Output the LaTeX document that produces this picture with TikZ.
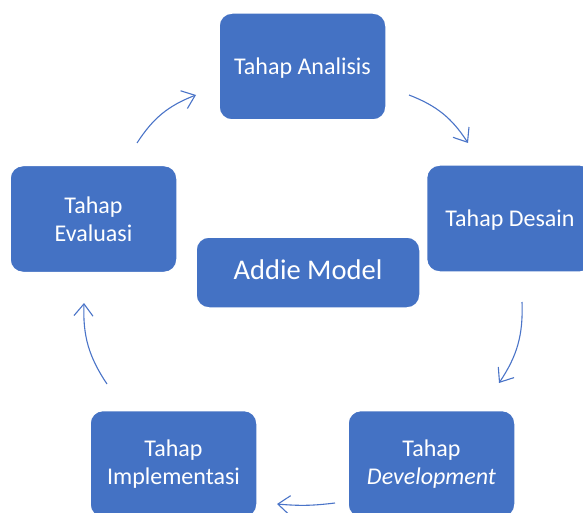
\documentclass[tikz,border=0pt]{standalone}
\usepackage{fontspec}
\setmainfont{Carlito}
\usetikzlibrary{arrows.meta}
\definecolor{boxblue}{HTML}{4472C4}
\definecolor{arrblue}{HTML}{4A74C8}
\tikzset{
  stage/.style={draw=white, line width=1.5pt, fill=boxblue, rounded corners=13pt,
    text=white, align=center, font=\fontsize{24}{28}\selectfont,
    minimum width=167pt, minimum height=107pt, inner sep=0pt},
  centre/.style={stage, minimum width=224pt, minimum height=71pt, font=\fontsize{28.5}{32}\selectfont},
  cyc/.style={draw=arrblue, line width=1.1pt, -{Straight Barb[length=12pt,width=19pt,line width=1.1pt]}}
}
\begin{document}
\begin{tikzpicture}[x=1pt,y=-1pt]
\useasboundingbox (0,0) rectangle (583,513);
\fill[white] (0,0) rectangle (583,513);
\begin{scope}
\clip (0,0) rectangle (583,513);
\node[stage, text depth=0pt] (ana) at (302.5,66.5) {Tahap Analisis};
\node[stage, text depth=0pt] (des) at (510,218.5) {Tahap Desain};
\node[stage] (dev) at (431.5,464) {Tahap\\\textit{Development}};
\node[stage] (imp) at (173.5,464) {Tahap\\Implementasi};
\node[stage] (eva) at (93.5,219) {Tahap\\Evaluasi};
\node[centre, text depth=6pt] (add) at (308,272.5) {Addie Model};
\end{scope}
\coordinate (a1) at (409,95);  \coordinate (b1) at (468,143);
\coordinate (a2) at (522,302); \coordinate (b2) at (499,383);
\coordinate (a3) at (335,503); \coordinate (b3) at (277,504);
\coordinate (a4) at (107,384); \coordinate (b4) at (84,303);
\coordinate (a5) at (137,143); \coordinate (b5) at (196,95);
\draw[cyc] (a1) to[bend left=18] (b1);
\draw[cyc] (a2) to[bend left=18] (b2);
\draw[cyc] (a3) to[bend left=6] (b3);
\draw[cyc] (a4) to[bend left=18] (b4);
\draw[cyc] (a5) to[bend left=18] (b5);
\end{tikzpicture}
\end{document}
